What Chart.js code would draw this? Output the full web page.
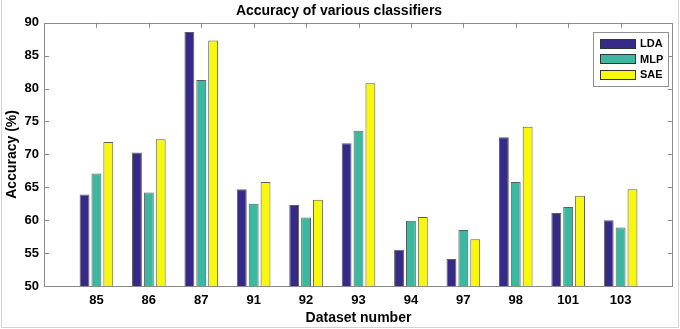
<!DOCTYPE html>
<html><head><meta charset="utf-8">
<script src="https://cdn.jsdelivr.net/npm/chart.js@4"></script>
<style>html,body{margin:0;padding:0;background:#fff;} canvas{display:block}</style>
</head><body>
<canvas id="c" width="680" height="329"></canvas>
<script>
const categories = ['85','86','87','91','92','93','94','97','98','101','103'];
const seriesNames = ['LDA','MLP','SAE'];
const lda = [63.9,70.3,88.6,64.7,62.3,71.7,55.5,54.1,72.6,61.1,60.0];
const mlp = [67.1,64.2,81.3,62.5,60.4,73.6,59.9,58.5,65.8,62.0,58.9];
const sae = [71.9,72.3,87.3,65.8,63.1,80.8,60.5,57.1,74.2,63.7,64.7];
const yTicks = [50,55,60,65,70,75,80,85,90];
const colors = ['#352a87','#3bb9a0','#f8f80c'];

const labels = [''].concat(categories, ['']);
const pad = arr => [null].concat(arr, [null]);
const seriesData = [lda, mlp, sae];

const AXIS = '#8a8a8a';
const FONT = 'Arial, "Liberation Sans", sans-serif';

const framePlugin = {
  id: 'frame',
  beforeDatasetsDraw(chart) {
    const {ctx, chartArea: a, scales} = chart;
    ctx.save();
    ctx.strokeStyle = AXIS; ctx.lineWidth = 1;
    ctx.beginPath();
    for (let i = 1; i <= categories.length; i++) {
      const x = Math.round(scales.x.getPixelForValue(i)) + 0.5;
      ctx.moveTo(x, a.bottom); ctx.lineTo(x, a.bottom - 5);
    }
    ctx.stroke();
    ctx.restore();
  },
  afterDatasetsDraw(chart) {
    const {ctx, chartArea: a, scales} = chart;
    ctx.save();
    ctx.strokeStyle = AXIS; ctx.lineWidth = 1;
    ctx.beginPath();
    for (let i = 1; i <= categories.length; i++) {
      const x = Math.round(scales.x.getPixelForValue(i)) + 0.5;
      ctx.moveTo(x, a.top); ctx.lineTo(x, a.top + 5);
    }
    yTicks.forEach(v => {
      const y = Math.round(scales.y.getPixelForValue(v)) + 0.5;
      ctx.moveTo(a.left, y); ctx.lineTo(a.left + 5, y);
      ctx.moveTo(a.right, y); ctx.lineTo(a.right - 5, y);
    });
    ctx.stroke();
    ctx.strokeRect(Math.round(a.left) + 0.5, Math.round(a.top) + 0.5,
                   Math.round(a.right - a.left) - 1, Math.round(a.bottom - a.top));
    // outer figure border
    ctx.strokeStyle = '#d2d2d2';
    ctx.beginPath();
    ctx.moveTo(1.5, 0); ctx.lineTo(1.5, 327.5); ctx.lineTo(678.5, 327.5); ctx.lineTo(678.5, 0);
    ctx.stroke();
    // legend
    const lx = 593, ly = 32, lw = 75, lh = 54;
    ctx.fillStyle = '#fff';
    ctx.fillRect(lx, ly, lw, lh);
    ctx.strokeStyle = '#909090';
    ctx.strokeRect(lx + 0.5, ly + 0.5, lw, lh);
    ctx.font = 'bold 11px ' + FONT;
    ctx.textBaseline = 'middle';
    ctx.textAlign = 'left';
    chart.data.datasets.forEach((ds, i) => {
      const cy = ly + 11.5 + i * 15.6;
      ctx.fillStyle = ds.backgroundColor;
      ctx.fillRect(600, Math.round(cy - 5), 36, 10);
      ctx.strokeStyle = '#333';
      ctx.strokeRect(600.5, Math.round(cy - 5) + 0.5, 35, 9);
      ctx.fillStyle = '#000';
      ctx.fillText(ds.label, 640, cy + 0.5);
    });
    ctx.restore();
  }
};

new Chart(document.getElementById('c'), {
  type: 'bar',
  data: {
    labels: labels,
    datasets: seriesNames.map((n, i) => ({
      label: n,
      data: pad(seriesData[i]),
      backgroundColor: colors[i],
      borderColor: 'rgba(40,40,40,0.75)',
      borderWidth: 1,
      categoryPercentage: 0.68,
      barPercentage: 0.83
    }))
  },
  options: {
    responsive: false,
    animation: false,
    devicePixelRatio: 1,
    layout: {padding: {left: 0, right: 2, top: 0, bottom: 0}},
    plugins: {
      legend: {display: false},
      tooltip: {enabled: false},
      title: {
        display: true,
        text: 'Accuracy of various classifiers',
        color: '#000',
        font: {family: FONT, size: 14, weight: 'bold'},
        padding: {top: 3, bottom: 3}
      }
    },
    scales: {
      x: {
        type: 'category',
        offset: false,
        grid: {display: false, drawTicks: false},
        border: {display: false},
        ticks: {color: '#000', font: {family: FONT, size: 13, weight: 'bold'}, padding: 7, maxRotation: 0, autoSkip: false},
        title: {display: true, text: 'Dataset number', color: '#000',
                font: {family: FONT, size: 14, weight: 'bold'}, padding: {top: 2, bottom: 2}},
        afterFit: s => { s.height = 43; }
      },
      y: {
        min: 50, max: 90,
        grid: {display: false, drawTicks: false},
        border: {display: false},
        afterBuildTicks: s => { s.ticks = yTicks.map(v => ({value: v})); },
        ticks: {color: '#000', font: {family: FONT, size: 13, weight: 'bold'}, padding: 5},
        title: {display: true, text: 'Accuracy (%)', color: '#000',
                font: {family: FONT, size: 14, weight: 'bold'}, padding: {top: 4, bottom: 2}},
        afterFit: s => { s.width = 44; }
      }
    }
  },
  plugins: [framePlugin]
});
</script>
</body></html>
